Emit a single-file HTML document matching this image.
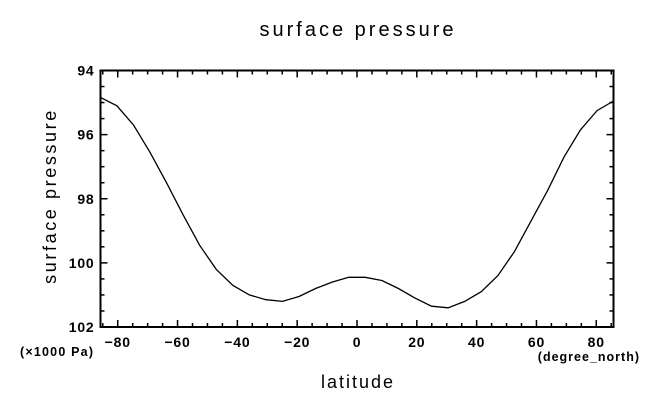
<!DOCTYPE html>
<html><head><meta charset="utf-8"><style>
body{margin:0;background:#fff;}
svg{display:block;font-family:"Liberation Sans","DejaVu Sans",sans-serif;}
</style></head><body>
<svg id="chart" width="659" height="405">
<text x="358" y="36" text-anchor="middle" font-size="20" letter-spacing="3">surface pressure</text>
<text x="358" y="388" text-anchor="middle" font-size="18" letter-spacing="2">latitude</text>
<text transform="translate(56,196) rotate(-90)" text-anchor="middle" font-size="18" letter-spacing="2.6">surface pressure</text>
<text x="20" y="356" font-size="12.5" font-weight="bold" letter-spacing="1.2">(×1000 Pa)</text>
<text x="640" y="361" text-anchor="end" font-size="12.5" font-weight="bold" letter-spacing="1">(degree_north)</text>
<g id="ticks"></g>
<rect x="100.5" y="70.5" width="513" height="256.5" fill="none" stroke="#000" stroke-width="2"/>
<path id="line" fill="none" stroke="#000" stroke-width="1.3"/>
</svg>
<script>
const lats=[-85.76,-80.27,-74.74,-69.21,-63.68,-58.14,-52.61,-47.07,-41.54,-36.0,-30.46,-24.92,-19.38,-13.84,-8.31,-2.77,2.77,8.31,13.84,19.38,24.92,30.46,36.0,41.54,47.07,52.61,58.14,63.68,69.21,74.74,80.27,85.76];
const ps=[94.84,95.1,95.7,96.55,97.5,98.5,99.45,100.2,100.7,101.0,101.15,101.2,101.05,100.8,100.6,100.45,100.45,100.55,100.8,101.1,101.35,101.4,101.2,100.9,100.4,99.65,98.7,97.75,96.7,95.85,95.25,94.95];
const xTicks=[-80,-60,-40,-20,0,20,40,60,80];
const yTicks=[94,96,98,100,102];
const X0=100.5,X1=613.5,Y0=70.5,Y1=327;
const xMin=-85.76,xMax=85.76,yMin=94,yMax=102;
const sx=v=>X0+(v-xMin)/(xMax-xMin)*(X1-X0);
const sy=v=>Y0+(v-yMin)/(yMax-yMin)*(Y1-Y0);
const NS="http://www.w3.org/2000/svg";
const g=document.getElementById('ticks');
function ln(x1,y1,x2,y2){const l=document.createElementNS(NS,'line');l.setAttribute('x1',x1);l.setAttribute('y1',y1);l.setAttribute('x2',x2);l.setAttribute('y2',y2);l.setAttribute('stroke','#000');l.setAttribute('stroke-width','1.5');


g.appendChild(l);}
function tx(x,y,s,a,n){const t=document.createElementNS(NS,'text');t.setAttribute('x',x);t.setAttribute('y',y);t.setAttribute('text-anchor',a);t.setAttribute('font-size','14');t.setAttribute('font-weight','bold');t.setAttribute('letter-spacing','0.8');t.textContent=s;


g.appendChild(t);}
for(let v=-85;v<=85;v+=5){const x=sx(v);const L=(v%20===0)?7:4;ln(x,Y1,x,Y1-L);ln(x,Y0,x,Y0+L);}
xTicks.forEach(v=>tx(sx(v),Y1+20,v===0?'0':(v<0?'−'+(-v):String(v)),'middle','x-tick-label'));
for(let v=94;v<=102.001;v+=0.5){const y=sy(v);const L=(Math.abs(v%2)<0.01)?7:4;ln(X0,y,X0+L,y);ln(X1,y,X1-L,y);}
yTicks.forEach(v=>tx(X0-6,sy(v)+5,String(v),'end','y-tick-label'));
document.getElementById('line').setAttribute('d',lats.map((la,i)=>(i?'L':'M')+sx(la).toFixed(1)+','+sy(ps[i]).toFixed(1)).join(''));
</script>
</body></html>
